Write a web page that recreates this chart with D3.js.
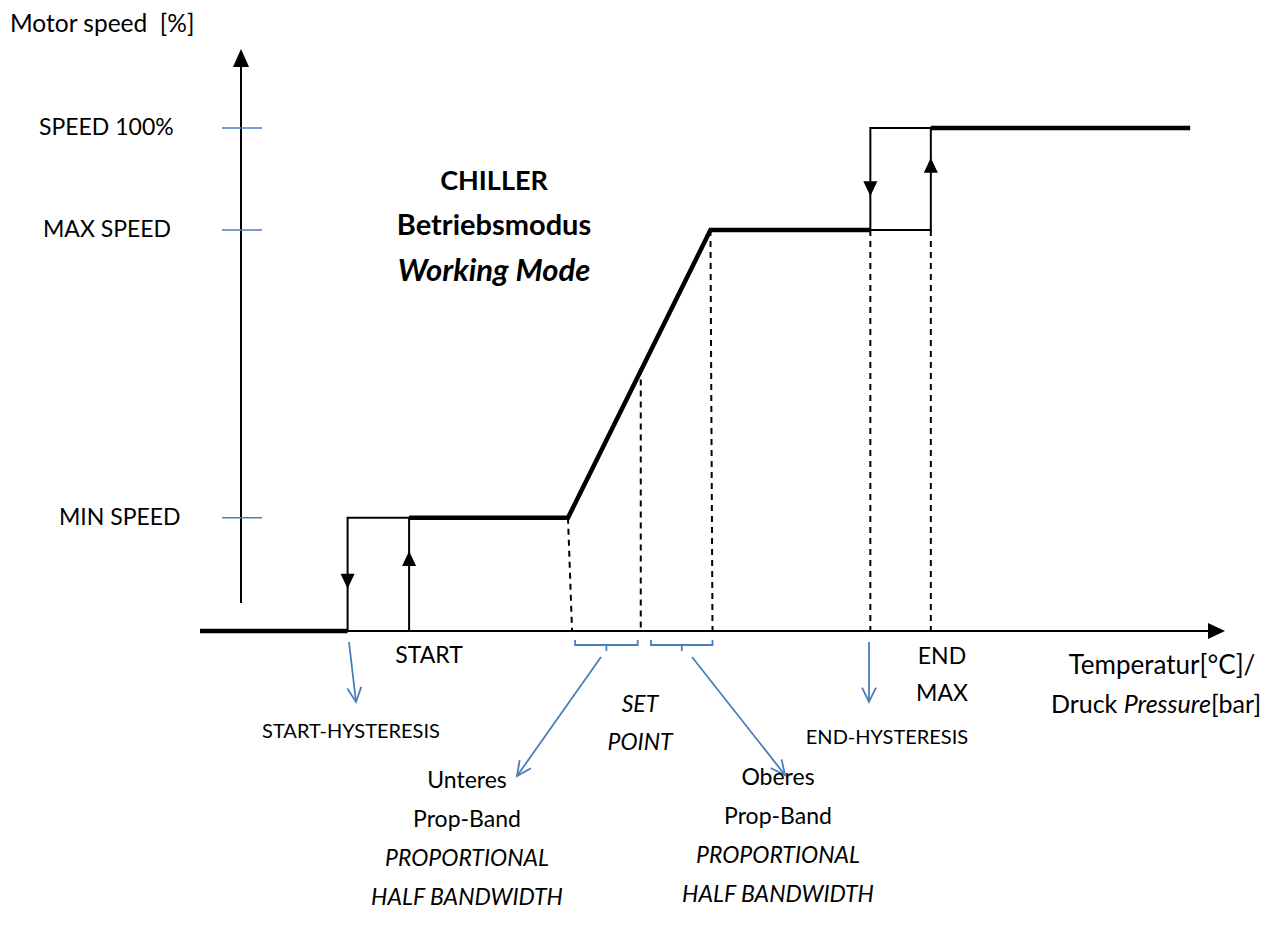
<!DOCTYPE html>
<html><head><meta charset="utf-8">
<script src="https://cdn.jsdelivr.net/npm/d3@7"></script>
<style>body{margin:0;background:#fff}svg text{font-family:Lato,"Open Sans",sans-serif;fill:#000;white-space:pre}</style>
</head><body><svg id="c" width="1274" height="936"></svg>
<script>
// Speed levels (% of motor speed)
const speedLevels = [
  {name:"MIN SPEED", v:22.5},
  {name:"MAX SPEED", v:79.7},
  {name:"SPEED 100%", v:100}
];
// Main (thick) characteristic: [x position (axis units), speed %]
const mainLine = [[0,0],[14.4,0]];
const mainLine2 = [[20.4,22.5],[35.9,22.5],[49.8,79.7],[65.4,79.7]];
const mainLine3 = [[71.3,100],[96.6,100]];
// Hysteresis loops (thin)
const hystLoops = [
  [[14.4,0],[14.4,22.5],[20.4,22.5],[20.4,0],[14.4,0]],
  [[65.4,79.7],[65.4,100],[71.3,100],[71.3,79.7],[65.4,79.7]]
];
// Arrowheads on hysteresis (x, speed, direction)
const hystArrows = [
  {x:14.4, v:10.0, dir:"down"},
  {x:20.4, v:14.3, dir:"up"},
  {x:65.4, v:88.0, dir:"down"},
  {x:71.3, v:92.5, dir:"up"}
];
// Dashed drop lines [x top, speed top, x bottom]
const dropLines = [
  [35.9,22.5,36.3],[43.0,52.2,43.0],[49.8,79.7,50.0],[65.4,79.7,65.4],[71.3,79.7,71.3]
];
// Proportional half-band brackets [x from, x to]
const brackets = [[36.6,42.7],[44.0,50.0]];

const svg = d3.select("#c");
const x = d3.scaleLinear().domain([0,100]).range([200,1225]);
const y = d3.scaleLinear().domain([0,100]).range([631,128]);
const line = d3.line().x(d=>x(d[0])).y(d=>y(d[1]));
const blue = "#4a7ebb";
const FS = 23;

// Y axis
svg.append("line").attr("x1",241).attr("x2",241).attr("y1",603).attr("y2",64).attr("stroke","#000").attr("stroke-width",2);
svg.append("path").attr("d","M241,49 L233,67 L249,67 Z").attr("fill","#000");
svg.selectAll(".yt").data(speedLevels).enter().append("line")
  .attr("x1",222).attr("x2",262).attr("y1",d=>y(d.v)).attr("y2",d=>y(d.v))
  .attr("stroke",blue).attr("stroke-width",1.5);
const labelX = {"MIN SPEED":59,"MAX SPEED":43,"SPEED 100%":39};
svg.selectAll(".yl").data(speedLevels).enter().append("text")
  .attr("x",d=>labelX[d.name]).attr("y",d=>y(d.v)+7).attr("font-size",FS).text(d=>d.name);
svg.append("text").attr("x",10).attr("y",32).attr("font-size",24.5).text("Motor speed  [%]");

// X axis
svg.append("line").attr("x1",x(14.4)).attr("x2",x(98.5)).attr("y1",y(0)).attr("y2",y(0)).attr("stroke","#000").attr("stroke-width",2);
svg.append("path").attr("d",`M${x(100)},${y(0)} L${x(100)-17},${y(0)-8} L${x(100)-17},${y(0)+8} Z`).attr("fill","#000");

// dashed lines
svg.selectAll(".dl").data(dropLines).enter().append("line")
  .attr("x1",d=>x(d[0])).attr("y1",d=>y(d[1])).attr("x2",d=>x(d[2])).attr("y2",y(0))
  .attr("stroke","#000").attr("stroke-width",2).attr("stroke-dasharray","6,5");

// hysteresis loops
svg.selectAll(".hl").data(hystLoops).enter().append("path")
  .attr("d",line).attr("fill","none").attr("stroke","#000").attr("stroke-width",2);

// thick lines
[mainLine,mainLine2,mainLine3].forEach(l=>{
  svg.append("path").attr("d",line(l)).attr("fill","none").attr("stroke","#000").attr("stroke-width",4.5).attr("stroke-linejoin","miter");
});

// arrowheads
svg.selectAll(".ha").data(hystArrows).enter().append("path")
  .attr("d",d=>{const cx=x(d.x), cy=y(d.v); return d.dir==="down"
    ? `M${cx-7},${cy-7} L${cx+7},${cy-7} L${cx},${cy+8} Z`
    : `M${cx-7},${cy+7} L${cx+7},${cy+7} L${cx},${cy-8} Z`;})
  .attr("fill","#000");

// Blue brackets under axis
svg.selectAll(".br").data(brackets).enter().append("path")
  .attr("d",d=>{const a=x(d[0]),b=x(d[1]),m=(a+b)/2;return `M${a},640 L${a},645 L${b},645 L${b},640 M${m},645 L${m},651`;})
  .attr("fill","none").attr("stroke",blue).attr("stroke-width",1.8);

// Blue pointer arrows
const pointers = [
  [349,642,356,702],[869,642,869,702],[601,657,517,776],[692,657,785,775]
];
pointers.forEach(p=>{
  const [x1,y1,x2,y2]=p;
  svg.append("line").attr("x1",x1).attr("y1",y1).attr("x2",x2).attr("y2",y2).attr("stroke",blue).attr("stroke-width",1.8);
  const ang=Math.atan2(y2-y1,x2-x1), L=16, s=0.45;
  const a1=[x2-L*Math.cos(ang-s),y2-L*Math.sin(ang-s)], a2=[x2-L*Math.cos(ang+s),y2-L*Math.sin(ang+s)];
  svg.append("path").attr("d",`M${a1[0]},${a1[1]} L${x2},${y2} L${a2[0]},${a2[1]}`).attr("fill","none").attr("stroke",blue).attr("stroke-width",1.8);
});

// Title
const title = [
  {t:"CHILLER", y:190, it:false, fs:27},
  {t:"Betriebsmodus", y:235, it:false, fs:29},
  {t:"Working Mode", y:281, it:true, fs:31}
];
svg.selectAll(".tt").data(title).enter().append("text")
  .attr("x",494).attr("y",d=>d.y).attr("text-anchor","middle").attr("font-size",d=>d.fs).attr("font-weight","bold")
  .attr("font-style",d=>d.it?"italic":"normal").text(d=>d.t);

function txt(t,xx,yy,opts={}){
  const e=svg.append("text").attr("x",xx).attr("y",yy).attr("font-size",opts.size||FS).attr("text-anchor",opts.anchor||"middle");
  if(opts.it) e.attr("font-style","italic");
  e.text(t); return e;
}
txt("START",429,663);
txt("START-HYSTERESIS",351,738,{size:20});
txt("SET",640,712,{it:true});
txt("POINT",640,750,{it:true});
txt("END",942,664);
txt("MAX",942,701);
txt("END-HYSTERESIS",887,744,{size:20});
txt("Temperatur[°C]/",1162,674,{size:26});
const dr = svg.append("text").attr("x",1156).attr("y",713).attr("font-size",25).attr("text-anchor","middle");
dr.append("tspan").text("Druck ");
dr.append("tspan").attr("font-style","italic").text("Pressure");
dr.append("tspan").text("[bar]");

const lower = ["Unteres","Prop-Band","PROPORTIONAL","HALF BANDWIDTH"];
const upper = ["Oberes","Prop-Band","PROPORTIONAL","HALF BANDWIDTH"];
lower.forEach((t,i)=>txt(t,467,788+i*39,{it:i>=2}));
upper.forEach((t,i)=>txt(t,778,785+i*39,{it:i>=2}));
</script></body></html>
